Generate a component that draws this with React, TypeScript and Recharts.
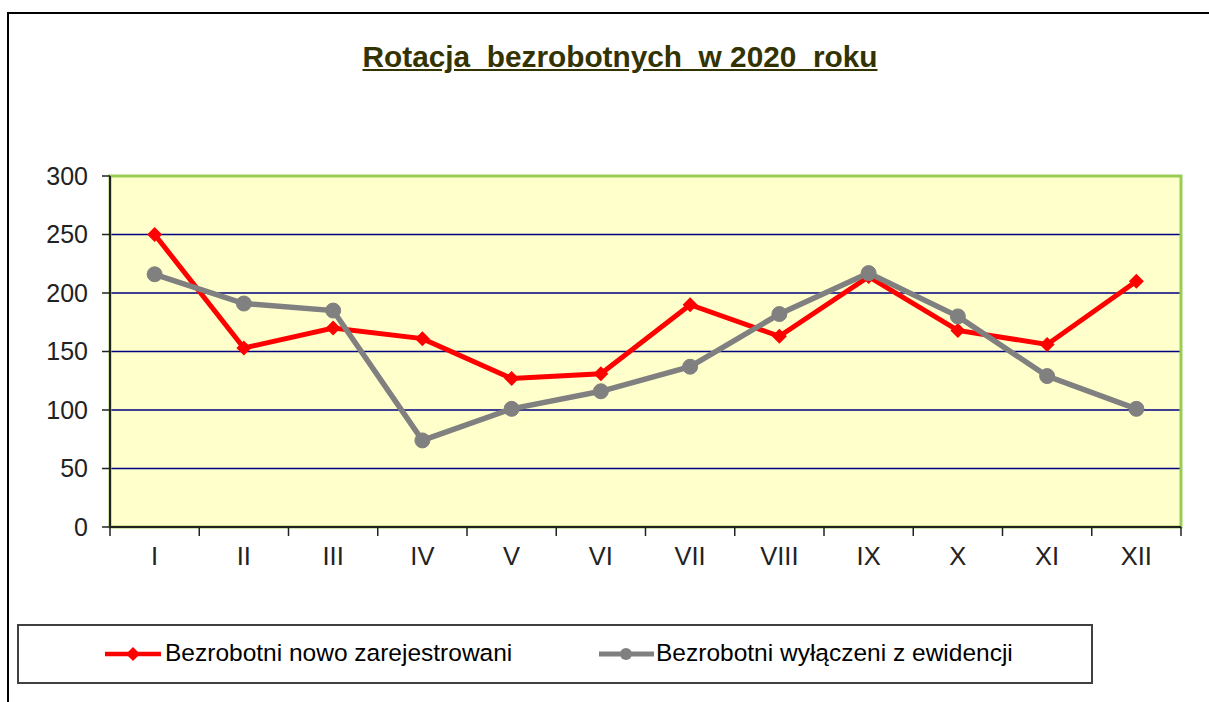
import React from "react";
import {
  LineChart,
  Line,
  XAxis,
  YAxis,
  CartesianGrid,
  ReferenceArea,
} from "recharts";

const months = ["I", "II", "III", "IV", "V", "VI", "VII", "VIII", "IX", "X", "XI", "XII"];
const registered = [250, 153, 170, 161, 127, 131, 190, 163, 214, 168, 156, 210];
const removed = [216, 191, 185, 74, 101, 116, 137, 182, 217, 180, 129, 101];
const yTicks = [0, 50, 100, 150, 200, 250, 300];

const data = months.map((m, i) => ({
  month: m,
  registered: registered[i],
  removed: removed[i],
}));

const RED = "#FF0000";
const GRAY = "#808080";
const FONT = "'Liberation Sans', Arial, sans-serif";

// plot box
const LEFT = 110;
const RIGHT = 1181;
const BAND = (RIGHT - LEFT) / months.length;

function Diamond({ cx, cy }: any) {
  if (cx == null || cy == null) return null;
  const s = 7.5;
  return (
    <path
      d={`M${cx} ${cy - s} L${cx + s} ${cy} L${cx} ${cy + s} L${cx - s} ${cy} Z`}
      fill={RED}
    />
  );
}

function MonthTick({ x, y, payload, index }: any) {
  const half = BAND / 2;
  return (
    <g>
      <line x1={x - half} y1={y} x2={x - half} y2={y + 9} stroke="#222" strokeWidth={1.5} />
      {index === months.length - 1 && (
        <line x1={x + half} y1={y} x2={x + half} y2={y + 9} stroke="#222" strokeWidth={1.5} />
      )}
      <text x={x} y={y + 38} textAnchor="middle" fill="#222" fontSize={25.5} fontFamily={FONT}>
        {payload.value}
      </text>
    </g>
  );
}

function LegendBox() {
  return (
    <div
      style={{
        position: "absolute",
        left: 17,
        top: 624,
        width: 1072,
        height: 56,
        border: "2px solid #404040",
        fontFamily: FONT,
        fontSize: 24.5,
        color: "#000",
      }}
    >
      <svg style={{ position: "absolute", left: 84, top: 18 }} width={60} height={20}>
        <line x1={2} y1={10} x2={58} y2={10} stroke={RED} strokeWidth={4.5} />
        <path d="M30 3 L37 10 L30 17 L23 10 Z" fill={RED} />
      </svg>
      <span style={{ position: "absolute", left: 146, top: 13 }}>Bezrobotni nowo zarejestrowani</span>
      <svg style={{ position: "absolute", left: 578, top: 18 }} width={60} height={20}>
        <line x1={2} y1={10} x2={57} y2={10} stroke={GRAY} strokeWidth={5} />
        <circle cx={29} cy={10} r={6} fill={GRAY} />
      </svg>
      <span style={{ position: "absolute", left: 637, top: 13 }}>Bezrobotni wyłączeni z ewidencji</span>
    </div>
  );
}

export default function App() {
  return (
    <div
      style={{
        position: "absolute",
        left: 0,
        top: 0,
        width: 1209,
        height: 702,
        background: "#fff",
        overflow: "hidden",
      }}
    >
      <div
        style={{
          position: "absolute",
          left: 7,
          top: 12,
          width: 1300,
          height: 800,
          borderLeft: "2px solid #000",
          borderTop: "2px solid #000",
        }}
      />
      <div
        style={{
          position: "absolute",
          left: 0,
          top: 40,
          width: 1240,
          textAlign: "center",
          fontFamily: FONT,
          fontWeight: "bold",
          fontSize: 29.8,
          color: "#333300",
          textDecoration: "underline",
          whiteSpace: "pre",
        }}
      >
        {"Rotacja  bezrobotnych  w 2020  roku"}
      </div>
      <div style={{ position: "absolute", left: 0, top: 0 }}>
        <LineChart
          width={1209}
          height={702}
          data={data}
          margin={{ top: 176, right: 1209 - RIGHT, bottom: 135, left: 0 }}
        >
          <CartesianGrid
            vertical={false}
            stroke="#000080"
            strokeWidth={1.5}
            fill="#FFFFCC"
            fillOpacity={1}
          />
          <ReferenceArea
            y1={0}
            y2={300}
            fill="none"
            stroke="#99CC55"
            strokeWidth={3}
            ifOverflow="visible"
          />
          <XAxis
            dataKey="month"
            scale="band"
            height={40}
            axisLine={{ stroke: "#222", strokeWidth: 2 }}
            tickLine={false}
            tickSize={0}
            tickMargin={0}
            tick={<MonthTick />}
            interval={0}
          />
          <YAxis
            width={LEFT}
            domain={[0, 300]}
            ticks={yTicks}
            interval={0}
            axisLine={{ stroke: "#222", strokeWidth: 2 }}
            tickLine={{ stroke: "#222", strokeWidth: 1.5 }}
            tickSize={8}
            tickMargin={14}
            tick={{ fill: "#222", fontSize: 25, fontFamily: FONT }}
          />
          <Line
            type="linear"
            dataKey="registered"
            stroke={RED}
            strokeWidth={5}
            dot={<Diamond />}
            activeDot={false}
            isAnimationActive={false}
          />
          <Line
            type="linear"
            dataKey="removed"
            stroke={GRAY}
            strokeWidth={5.5}
            dot={{ r: 7.5, fill: GRAY, stroke: GRAY, strokeWidth: 1 }}
            activeDot={false}
            isAnimationActive={false}
          />
        </LineChart>
      </div>
      <LegendBox />
    </div>
  );
}
